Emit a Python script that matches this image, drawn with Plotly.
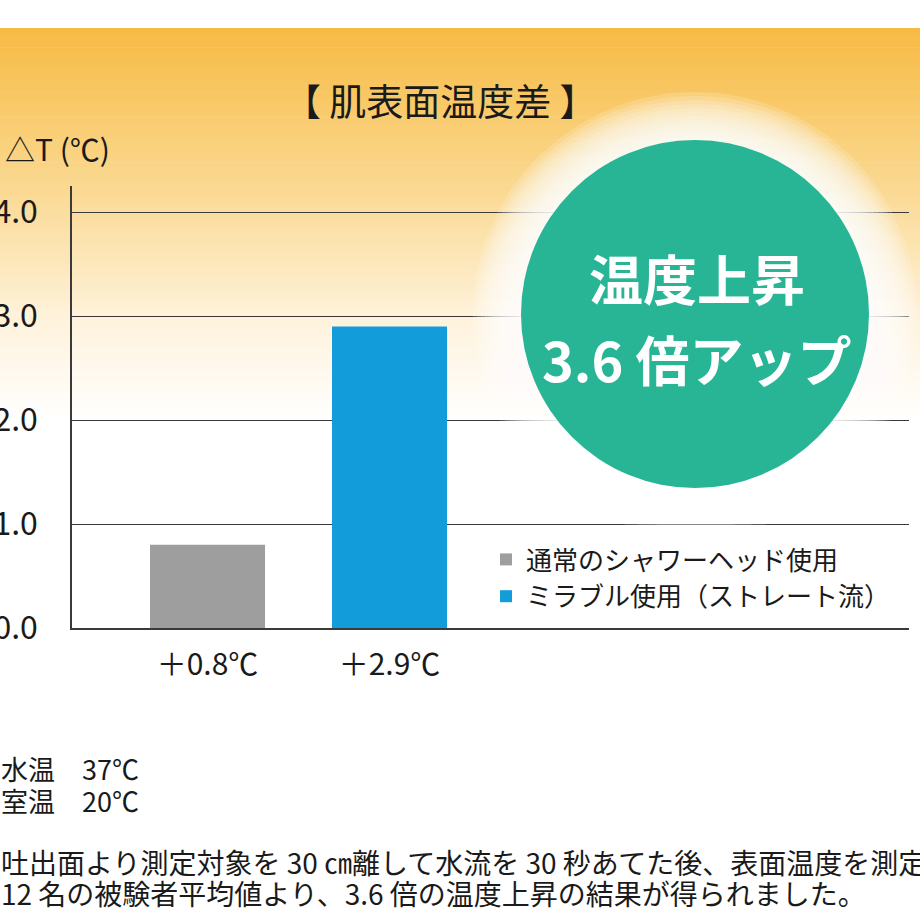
import plotly.graph_objects as go

#-------------------------------------------------------------------------------
# data
categories = ["＋0.8℃", "＋2.9℃"]
series_names = ["通常のシャワーヘッド使用", "ミラブル使用（ストレート流）"]
series_values = [0.8, 2.9]
series_colors = ["#9d9e9d", "#139cda"]
y_tickvals = [0, 1, 2, 3, 4]
y_ticktext = ["0.0", "1.0", "2.0", "3.0", "4.0"]

title_text = "【 肌表面温度差 】"
y_unit_text = "△T (℃)"
badge_lines = ["温度上昇", "3.6 倍アップ"]
condition_lines = ["水温　37℃", "室温　20℃"]
note_lines = [
    "吐出面より測定対象を 30 ㎝離して水流を 30 秒あてた後、表面温度を測定",
    "12 名の被験者平均値より、3.6 倍の温度上昇の結果が得られました。",
]

FONT = "Noto Sans CJK JP"
W, H = 920, 920
L, R, T, B = 72, 11, 186, 292
PW, PH = W - L - R, H - T - B


def px(x):
    # window pixel -> paper fraction
    return (x - L) / PW


def py(y):
    return (H - B - y) / PH


def mix(c1, c2, t):
    return "rgb(%d,%d,%d)" % tuple(round(a + (b - a) * t) for a, b in zip(c1, c2))


#-------------------------------------------------------------------------------
fig = go.Figure()
for name, cat, val, col in zip(series_names, categories, series_values, series_colors):
    fig.add_trace(go.Bar(x=[cat], y=[val], name=name, marker_color=col,
                         marker_line_width=0, width=0.632))

shapes = []
# orange background gradient
stops = [(28, (247, 186, 68)), (120, (249, 204, 112)), (212, (251, 221, 158)),
         (316, (254, 242, 218)), (420, (255, 255, 255))]
for (ya, ca), (yb, cb) in zip(stops[:-1], stops[1:]):
    n = 24
    for i in range(n):
        y0 = ya + (yb - ya) * i / n
        y1 = ya + (yb - ya) * (i + 1) / n + 0.6
        shapes.append(dict(type="rect", xref="paper", yref="paper", layer="below",
                           x0=px(0), x1=px(W), y0=py(y0), y1=py(y1),
                           fillcolor=mix(ca, cb, (i + 0.5) / n), line_width=0))

# white glow around the badge (drawn over the grid lines)
cx, cy, r = 695, 314, 174
for k in range(12, 0, -1):
    rr = r + k * 4
    shapes.append(dict(type="circle", xref="paper", yref="paper", layer="above",
                       x0=px(cx - rr), x1=px(cx + rr), y0=py(cy + rr), y1=py(cy - rr),
                       fillcolor="rgba(255,255,255,0.16)", line_width=0))
shapes.append(dict(type="circle", xref="paper", yref="paper", layer="above",
                   x0=px(cx - r), x1=px(cx + r), y0=py(cy + r), y1=py(cy - r),
                   fillcolor="#27b596", line_width=0))

annotations = [
    dict(text=title_text, x=px(440), y=py(100), font=dict(size=37)),
    dict(text=y_unit_text, x=px(3), y=py(148), xanchor="left", font=dict(size=30)),
    dict(text="<b>" + badge_lines[0] + "</b>", x=px(697), y=py(277),
         font=dict(size=54, color="white")),
    dict(text="<b>" + badge_lines[1] + "</b>", x=px(697), y=py(358),
         font=dict(size=54, color="white")),
]
for i, line in enumerate(condition_lines):
    annotations.append(dict(text=line, x=px(-1), y=py(768 + i * 32), xanchor="left",
                            font=dict(size=27)))
for i, line in enumerate(note_lines):
    annotations.append(dict(text=line, x=px(-1), y=py(862 + i * 31), xanchor="left",
                            font=dict(size=28)))
for a in annotations:
    a.update(xref="paper", yref="paper", showarrow=False, yanchor="middle")
    a.setdefault("xanchor", "center")
    a["font"].setdefault("color", "#1a1a1a")
    a["font"]["family"] = FONT

#-------------------------------------------------------------------------------
fig.update_layout(
    width=W, height=H, autosize=False,
    # autoexpand off: the legend must not push the margins out
    margin=dict(l=L, r=R, t=T, b=B, pad=0, autoexpand=False),
    paper_bgcolor="white", plot_bgcolor="rgba(0,0,0,0)",
    font=dict(family=FONT, color="#1a1a1a"),
    barmode="overlay",
    showlegend=True,
    legend=dict(x=px(486), y=py(536), xanchor="left", yanchor="top",
                bgcolor="rgba(0,0,0,0)", font=dict(size=26, family=FONT),
                tracegroupgap=0),
    shapes=shapes,
    annotations=annotations,
)
fig.update_xaxes(type="category", categoryorder="array", categoryarray=categories,
                 range=[-0.7445, 3.854], showline=True, linecolor="#3a3a3a",
                 linewidth=1.5, showgrid=False, ticks="", tickfont=dict(size=30),
                 ticklabelstandoff=9, fixedrange=True)
fig.update_yaxes(range=[0, 4.25], tickvals=y_tickvals, ticktext=y_ticktext,
                 showline=True, linecolor="#3a3a3a", linewidth=1.5,
                 showgrid=True, gridcolor="#3a3a3a", gridwidth=1.3, zeroline=False,
                 ticks="", tickfont=dict(size=32), ticklabelstandoff=26,
                 fixedrange=True)

# page: no body margin, no scrollbars, so the figure fills the window exactly
page_css = ("document.documentElement.style.overflow='hidden';"
            "document.body.style.margin='0';"
            "document.body.style.overflow='hidden';")
fig.write_html("out.html", post_script=page_css,
               config={"displayModeBar": False})
